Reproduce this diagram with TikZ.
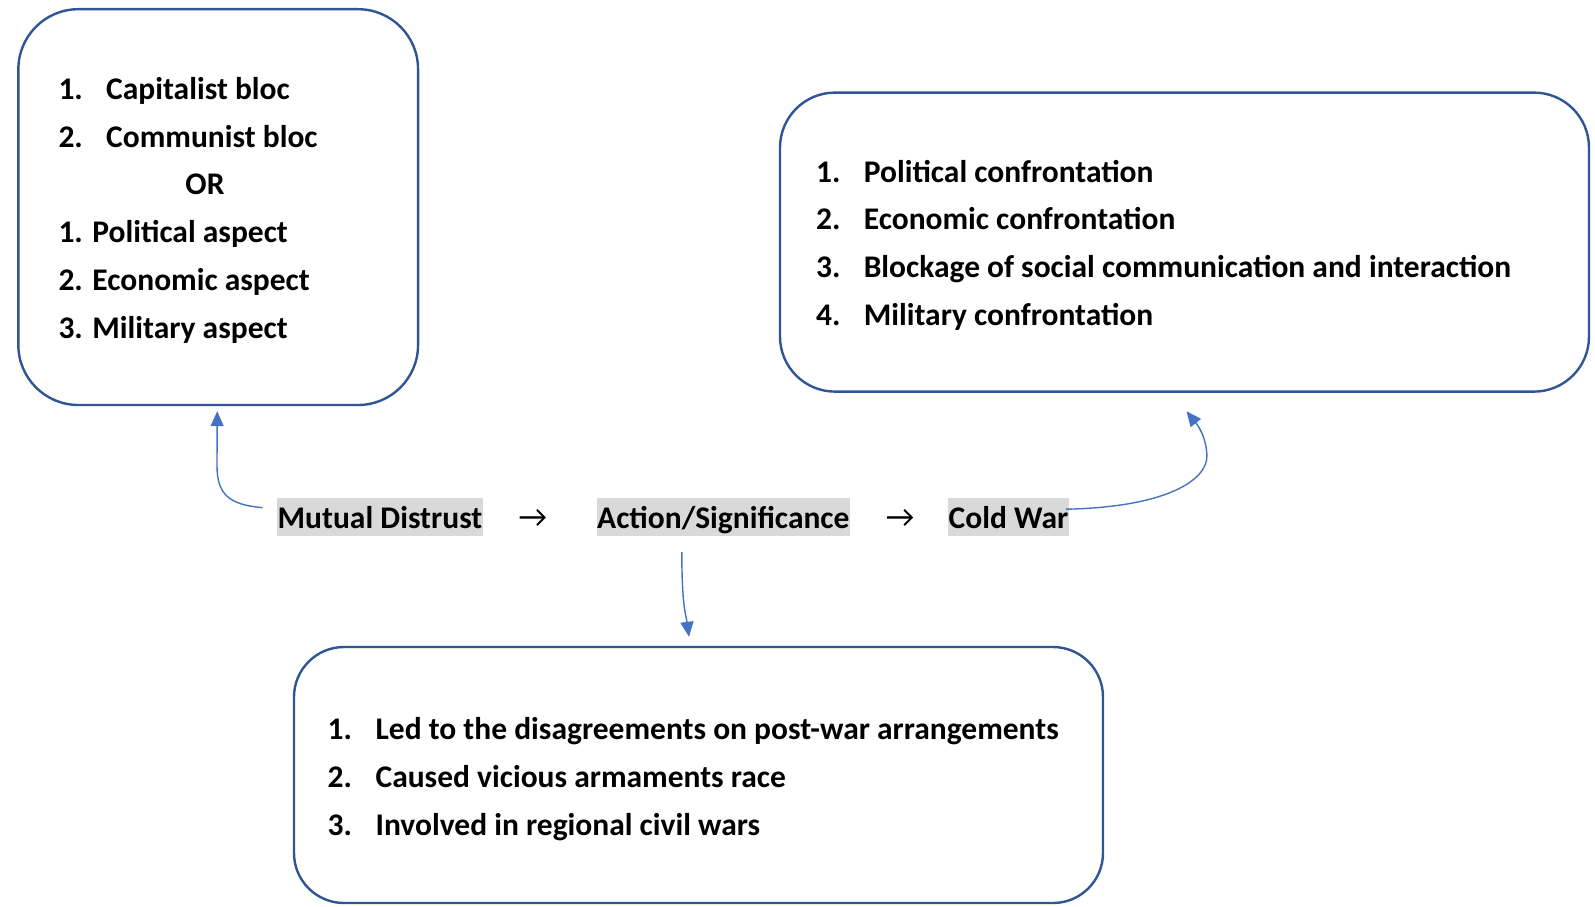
\documentclass[tikz,border=0pt]{standalone}
\usepackage{fontspec}
\setmainfont{Carlito}
\newfontfamily\arrowfont{Carlito}
\usetikzlibrary{arrows.meta}
\definecolor{boxline}{HTML}{2F5597}
\definecolor{linkblue}{HTML}{4472C4}
\definecolor{mark}{HTML}{D9D9D9}
\tikzset{
  panel/.style={draw=boxline, line width=2.4pt, fill=white},
  item/.style={anchor=base west, inner sep=0pt, font=\fontsize{31.5}{36}\selectfont\bfseries},
  hl/.style={anchor=base west, fill=mark, inner xsep=0.5pt, inner ysep=0pt,
             text height=29.6pt, text depth=8pt, font=\fontsize{31.5}{36}\selectfont\bfseries},
  txtarrow/.style={anchor=base, inner sep=0pt, font=\fontsize{31.5}{36}\selectfont\arrowfont},
  link/.style={draw=linkblue, line width=1.4pt, -{Triangle[length=15pt,width=13pt]}}
}
\begin{document}
\begin{tikzpicture}[x=1pt,y=-1pt]
\useasboundingbox (0,0) rectangle (1595,907);

% the three panels
\node[panel, rounded corners=60pt, minimum width=399.7pt, minimum height=395.8pt] (b1) at (218.2,207.1) {};
\node[panel, rounded corners=55pt, minimum width=809pt, minimum height=299pt] (b2) at (1184.5,242.1) {};
\node[panel, rounded corners=50pt, minimum width=809pt, minimum height=256pt] (b3) at (698.5,775) {};

% left panel
\node[item] (l1n) at (58.3,99.3) {1.};
\node[item] (l1t) at (106,99.3) {Capitalist bloc};
\node[item] (l2n) at (58.3,147) {2.};
\node[item] (l2t) at (106,147) {Communist bloc};
\node[item, anchor=base] (lor) at (205,194.6) {OR};
\node[item] (l3) at (58.3,242.5) {1. Political aspect};
\node[item] (l4) at (58.3,290.2) {2. Economic aspect};
\node[item] (l5) at (58.3,338) {3. Military aspect};

% right panel
\node[item] (r1n) at (816,182) {1.};
\node[item] (r1t) at (863.6,182) {Political confrontation};
\node[item] (r2n) at (816,229.7) {2.};
\node[item] (r2t) at (863.6,229.7) {Economic confrontation};
\node[item] (r3n) at (816,277.5) {3.};
\node[item] (r3t) at (863.6,277.5) {Blockage of social communication and interaction};
\node[item] (r4n) at (816,325.3) {4.};
\node[item] (r4t) at (863.6,325.3) {Military confrontation};

% bottom panel
\node[item] (d1n) at (327.5,739) {1.};
\node[item] (d1t) at (375.4,739) {Led to the disagreements on post-war arrangements};
\node[item] (d2n) at (327.5,787) {2.};
\node[item] (d2t) at (375.4,787) {Caused vicious armaments race};
\node[item] (d3n) at (327.5,835) {3.};
\node[item] (d3t) at (375.4,835) {Involved in regional civil wars};

% middle chain
\node[hl] (md) at (277,528) {Mutual Distrust};
\node[txtarrow] (ar1) at (533,527) {→};
\node[hl] (as) at (596.5,528) {Action/Significance};
\node[txtarrow] (ar2) at (900,527) {→};
\node[hl] (cw) at (948,528) {Cold War};

% connectors
\draw[link] ([xshift=-14.5pt,yshift=9.5pt]md.west)
  .. controls +(-32,-3) and +(0,30) .. ++(-45.5,-42)
  -- ([xshift=-1pt,yshift=-5pt]b1.south);
\draw[link] ([xshift=-41.5pt,yshift=-16pt]as.south)
  .. controls +(0,55) and +(-3,-22) .. ([xshift=-9.5pt,yshift=9pt]b3.north);
\draw[link] ([xshift=-3pt,yshift=8pt]cw.east)
  .. controls +(100,-2) and +(1,25) .. ++(141,-54)
  .. controls +(-1,-22) and +(8,10) .. ([xshift=2pt,yshift=-18.5pt]b2.south);
\end{tikzpicture}
\end{document}
